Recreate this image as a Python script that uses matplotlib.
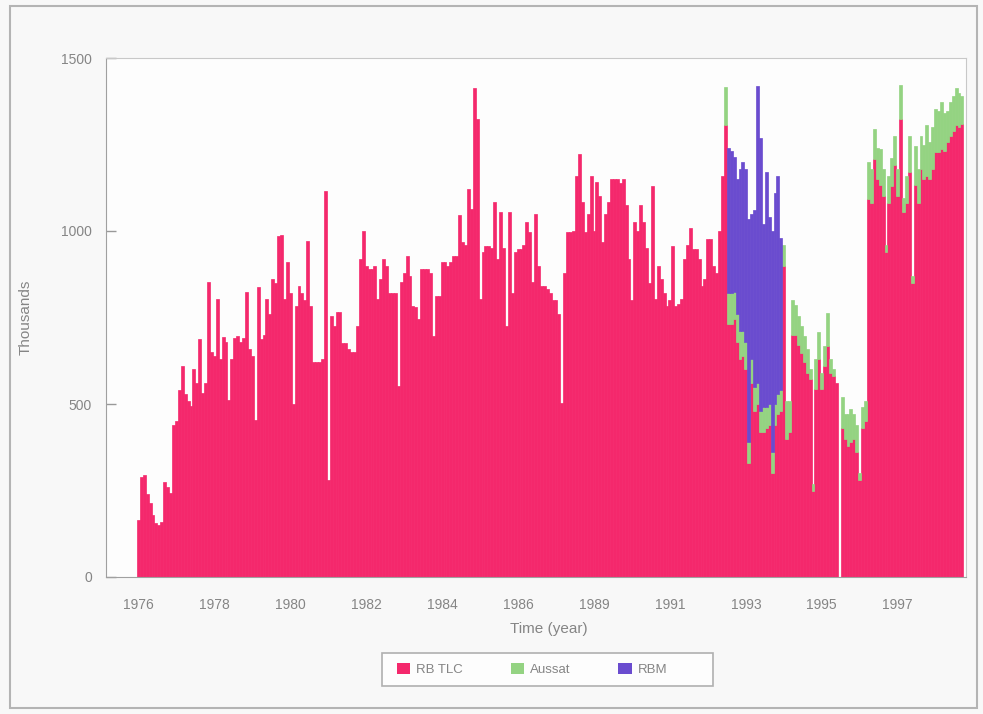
import numpy as np
import matplotlib
matplotlib.use("Agg")
import matplotlib.pyplot as plt
from matplotlib.patches import Patch, Rectangle

# Monthly totals (thousands), January 1976 onward
rb_tlc = [
    165, 290, 296, 240, 214, 180, 157, 150, 160, 275, 260, 243, 440, 450, 540, 609,
    530, 510, 495, 600, 560, 687, 533, 560, 852, 649, 640, 803, 629, 693, 680, 513,
    629, 690, 696, 678, 690, 823, 658, 640, 455, 838, 687, 700, 803, 760, 861, 850, 985,
    988, 803, 910, 822, 499, 784, 842, 822, 800, 972, 784, 620, 620, 620, 630, 1117,
    281, 755, 725, 765, 765, 677, 677, 660, 650, 650, 725, 919, 1001, 900, 890, 890,
    900, 803, 860, 919, 900, 822, 822, 822, 552, 852, 880, 929, 870, 784, 780, 745,
    890, 890, 890, 880, 697, 813, 813, 909, 909, 900, 909, 929, 929, 1045, 967, 960,
    1122, 1064, 1412, 1325, 803, 938, 958, 958, 950, 1083, 919, 1054, 950, 726, 1054,
    822, 940, 948, 948, 960, 1025, 996, 852, 1049, 900, 842, 840, 832, 822, 800, 800, 760,
    504, 880, 996, 996, 1000, 1160, 1223, 1083, 996, 1050, 1160, 1000, 1141, 1100, 967,
    1050, 1083, 1150, 1150, 1150, 1140, 1150, 1074, 919, 800, 1025, 1000, 1074, 1025,
    950, 850, 1131, 803, 900, 860, 822, 784, 800, 958, 784, 790, 803, 919, 960, 1010,
    948, 948, 919, 842, 860, 977, 977, 900, 880, 1000, 1160, 1305,
    730, 730, 745, 680, 630, 640, 600, 330, 560, 480, 500, 420, 420, 430, 440, 300,
    440, 470, 480,
    900, 400, 420, 700, 700, 670, 648, 620, 590, 571, 250, 542, 629, 542, 610, 668,
    590, 581, 560,
    0,
    430, 400, 380, 390, 400, 360, 280, 430, 450,
    1093, 1080, 1209, 1150, 1132, 1100, 940, 1080, 1130, 1190, 1100, 1325, 1054, 1080,
    1170, 851, 1132, 1080, 1180, 1150, 1160, 1150, 1180, 1228, 1228, 1238, 1230, 1257,
    1276, 1290, 1305, 1300, 1310,
]

aussat_start = 201
aussat = [
    110,
    90, 90, 80, 80, 80, 70, 80, 60, 70, 70, 60, 60, 70, 60, 60, 60, 60, 60, 60,
    60, 110, 90, 100, 85, 85, 78, 77, 68, 29, 20, 87, 78, 48, 58, 96, 39, 20, 0,
    0,
    90, 70, 90, 95, 70, 80, 20, 60, 60,
    106, 100, 87, 90, 106, 80, 20, 80, 80, 86, 80, 96, 40, 80, 106, 20, 115, 100,
    96, 100, 145, 107, 120, 126, 120, 135, 110, 90, 97, 100, 107, 100, 80,
]

rbm_start = 202
rbm = [420, 410, 390, 390, 470, 490, 500, 645, 420, 510, 860, 790, 530, 680, 540,
       640, 610, 630, 440]

series_names = ["RB TLC", "Aussat", "RBM"]
tick_months = [0, 26, 52, 78, 104, 130, 156, 182, 208, 234, 260]
tick_labels = ["1976", "1978", "1980", "1982", "1984", "1986", "1989", "1991",
               "1993", "1995", "1997"]
y_ticks = [0, 500, 1000, 1500]

# Align the series on a common monthly index
n = len(rb_tlc)
tlc = np.array(rb_tlc, dtype=float)
aus = np.zeros(n)
aus[aussat_start:aussat_start + len(aussat)] = aussat
blu = np.zeros(n)
blu[rbm_start:rbm_start + len(rbm)] = rbm
x = np.arange(n)

c_tlc = "#F4286C"
c_aus = "#94D382"
c_rbm = "#6A4CCF"
txt = "#858585"

plt.rcParams["font.family"] = ["Liberation Sans", "DejaVu Sans"]

W, H = 983, 714
fig = plt.figure(figsize=(W / 100, H / 100), dpi=100, facecolor="#f8f8f8")

# outer frame of the chart
fig.patches.append(Rectangle((10 / W, 6 / H), 967 / W, 702 / H, transform=fig.transFigure,
                             fill=False, edgecolor="#b4b4b4", linewidth=1.5))

left, right, top, bottom = 106, 966, 58, 577
ax = fig.add_axes([left / W, 1 - bottom / H, (right - left) / W, (bottom - top) / H])
ax.set_facecolor("#fdfdfd")


def stacked(values, base, color):
    edges = [color if v > 0 else "none" for v in values]
    ax.bar(x, values, bottom=base, width=1.0, color=color, edgecolor=edges,
           linewidth=0.5)


stacked(tlc, 0, c_tlc)
stacked(aus, tlc, c_aus)
stacked(blu, tlc + aus, c_rbm)

ax.set_xlim(-11.1, 283.4)
ax.set_ylim(0, 1500)
ax.set_xticks(tick_months)
ax.set_xticklabels(tick_labels)
ax.set_yticks(y_ticks)
ax.tick_params(axis="x", length=0, pad=15, labelsize=10, labelcolor=txt)
ax.tick_params(axis="y", direction="in", length=7, width=1, color="#999999",
               pad=10, labelsize=10, labelcolor=txt)

for side in ["top", "right"]:
    ax.spines[side].set_color("#c8c8c8")
for side in ["left", "bottom"]:
    ax.spines[side].set_color("#a0a0a0")

ax.set_ylabel("Thousands", fontsize=11, color=txt)
ax.yaxis.set_label_coords((33 - left) / (right - left), 0.5)
fig.text(549 / W, 1 - 629 / H, "Time (year)", ha="center", va="center",
         fontsize=11, color=txt)

# legend box with the entries packed to its left side
fig.patches.append(Rectangle((382 / W, 1 - 686 / H), 331 / W, 33 / H,
                             transform=fig.transFigure, facecolor="#fdfdfd",
                             edgecolor="#b0b0b0", linewidth=1.2, zorder=0))
handles = [Patch(facecolor=c, edgecolor="none", label=s)
           for c, s in zip([c_tlc, c_aus, c_rbm], series_names)]
leg = fig.legend(handles=handles, ncol=3, loc="center left",
                 bbox_to_anchor=(386 / W, 1 - 669.5 / H), frameon=False,
                 fontsize=9.5, columnspacing=3.6, handlelength=1.0,
                 handleheight=0.9, handletextpad=0.5, borderpad=0.3)
for t in leg.get_texts():
    t.set_color(txt)

fig.savefig("out.png", dpi=100, facecolor=fig.get_facecolor())
